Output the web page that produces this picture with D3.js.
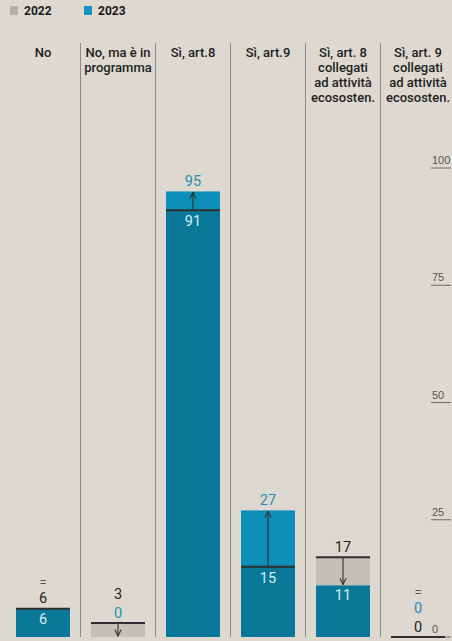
<!DOCTYPE html>
<html><head><meta charset="utf-8">
<script src="https://cdn.jsdelivr.net/npm/d3@7"></script>
<style>
html,body{margin:0;padding:0;background:#ddd9d0;}
svg{display:block;}
</style></head>
<body>
<script>
const categories = [
  ["No"],
  ["No, ma è in", "programma"],
  ["Sì, art.8"],
  ["Sì, art.9"],
  ["Sì, art. 8", "collegati", "ad attività", "ecososten."],
  ["Sì, art. 9", "collegati", "ad attività", "ecososten."]
];
const values2022 = [6, 3, 91, 15, 17, 0];
const values2023 = [6, 0, 95, 27, 11, 0];
const tickValues = [0, 25, 50, 75, 100];
const legendLabels = ["2022", "2023"];

const W = 452, H = 641;
const C = {bg:"#ddd9d0", dark:"#0a7898", bright:"#0d8fb9", gray:"#c3c0b8", legGray:"#b3b0a9", legBlue:"#1592c2",
  line:"#2e2e2e", sep:"#8c8981", blueText:"#2a8eb2", inText:"#d6edf4", darkText:"#222"};
const numFont = "Roboto, 'Liberation Sans', sans-serif";

const svg = d3.select("body").append("svg").attr("width", W).attr("height", H);
svg.append("rect").attr("width", W).attr("height", H).attr("fill", C.bg);

const x = d3.scaleBand().domain(d3.range(categories.length)).range([5.5, 455.5]).padding(0);
const y = d3.scaleLinear().domain([0, 100]).range([637, 168]);
const barW = 54;
const bx = i => x(i) + (x.bandwidth() - barW) / 2;
const cx = i => x(i) + x.bandwidth() / 2;

// legend
const leg = svg.append("g");
[C.legGray, C.legBlue].forEach((c, i) => {
  const lx = 10 + i * 74;
  leg.append("rect").attr("x", lx).attr("y", 6).attr("width", 8).attr("height", 9).attr("fill", c);
  leg.append("text").attr("x", lx + 14).attr("y", 15).text(legendLabels[i])
    .attr("font-family", numFont).attr("font-weight", 700).attr("font-size", 12).attr("fill", "#1a1a1a");
});

// separators
for (let i = 1; i < categories.length; i++) {
  svg.append("line").attr("x1", x(i)).attr("x2", x(i)).attr("y1", 43).attr("y2", 637)
    .attr("stroke", C.sep).attr("stroke-width", 1);
}

// headers
categories.forEach((lines, i) => {
  const t = svg.append("text").attr("text-anchor", "middle")
    .attr("font-family", numFont).attr("font-weight", 500).attr("font-size", 13).attr("fill", "#1e1e1e");
  lines.forEach((l, j) => t.append("tspan").attr("x", cx(i)).attr("y", 57 + j * 15).text(l));
});

// y axis ticks (right side)
const axis = svg.append("g");
tickValues.forEach(v => {
  axis.append("line").attr("x1", 431).attr("x2", 451).attr("y1", y(v)).attr("y2", y(v))
    .attr("stroke", "#6d6a63").attr("stroke-width", 1);
  axis.append("text").attr("x", 432).attr("y", y(v) - 4).text(v)
    .attr("font-family", "'Liberation Sans', sans-serif").attr("font-size", 11).attr("fill", "#555");
});

// defs arrow
svg.append("defs").append("marker").attr("id", "ah").attr("viewBox", "0 0 10 10")
  .attr("refX", 9).attr("refY", 5).attr("markerWidth", 7).attr("markerHeight", 7).attr("orient", "auto-start-reverse")
  .append("path").attr("d", "M1,1 L9,5 L1,9").attr("fill", "none").attr("stroke", C.line).attr("stroke-width", 1.4);

function label(i, yc, txt, color, size) {
  svg.append("text").attr("x", cx(i)).attr("y", yc + 5).attr("text-anchor", "middle").text(txt)
    .attr("font-family", numFont).attr("font-size", size || 14.5).attr("fill", color);
}

categories.forEach((_, i) => {
  const a = values2022[i], b = values2023[i];
  const lo = Math.min(a, b);
  if (a > b) svg.append("rect").attr("x", bx(i)).attr("width", barW).attr("y", y(a)).attr("height", y(b) - y(a)).attr("fill", C.gray);
  if (b > a) svg.append("rect").attr("x", bx(i)).attr("width", barW).attr("y", y(b)).attr("height", y(a) - y(b)).attr("fill", C.bright);
  if (lo > 0) svg.append("rect").attr("x", bx(i)).attr("width", barW).attr("y", y(lo)).attr("height", y(0) - y(lo)).attr("fill", C.dark);
  svg.append("line").attr("x1", bx(i)).attr("x2", bx(i) + barW).attr("y1", y(a)).attr("y2", y(a))
    .attr("stroke", C.line).attr("stroke-width", 2);
  if (a !== b) {
    svg.append("line").attr("x1", cx(i)).attr("x2", cx(i)).attr("y1", y(a)).attr("y2", y(b) + (b > a ? 1 : -1))
      .attr("stroke", C.line).attr("stroke-width", 1.1).attr("marker-end", "url(#ah)");
  }
  if (b > a) {
    label(i, y(b) - 10, b, C.blueText);
    label(i, y(a) + 11, a, C.inText);
  } else if (a > b) {
    if (b > 0) {
      label(i, y(a) - 10, a, C.darkText);
      label(i, y(b) + 10, b, C.inText);
    } else {
      label(i, y(a) - 10, b, C.blueText);
      label(i, y(a) - 29, a, C.darkText);
    }
  } else {
    if (a > 0) {
      label(i, y(a) - 11, a, C.darkText);
      label(i, y(a) + 10, b, C.inText);
      label(i, y(a) - 27, "=", "#555", 13);
    } else {
      label(i, y(a) - 10, a, C.darkText);
      label(i, y(a) - 29, b, C.blueText);
      label(i, y(a) - 45, "=", "#555", 13);
    }
  }
});
</script>
</body></html>
